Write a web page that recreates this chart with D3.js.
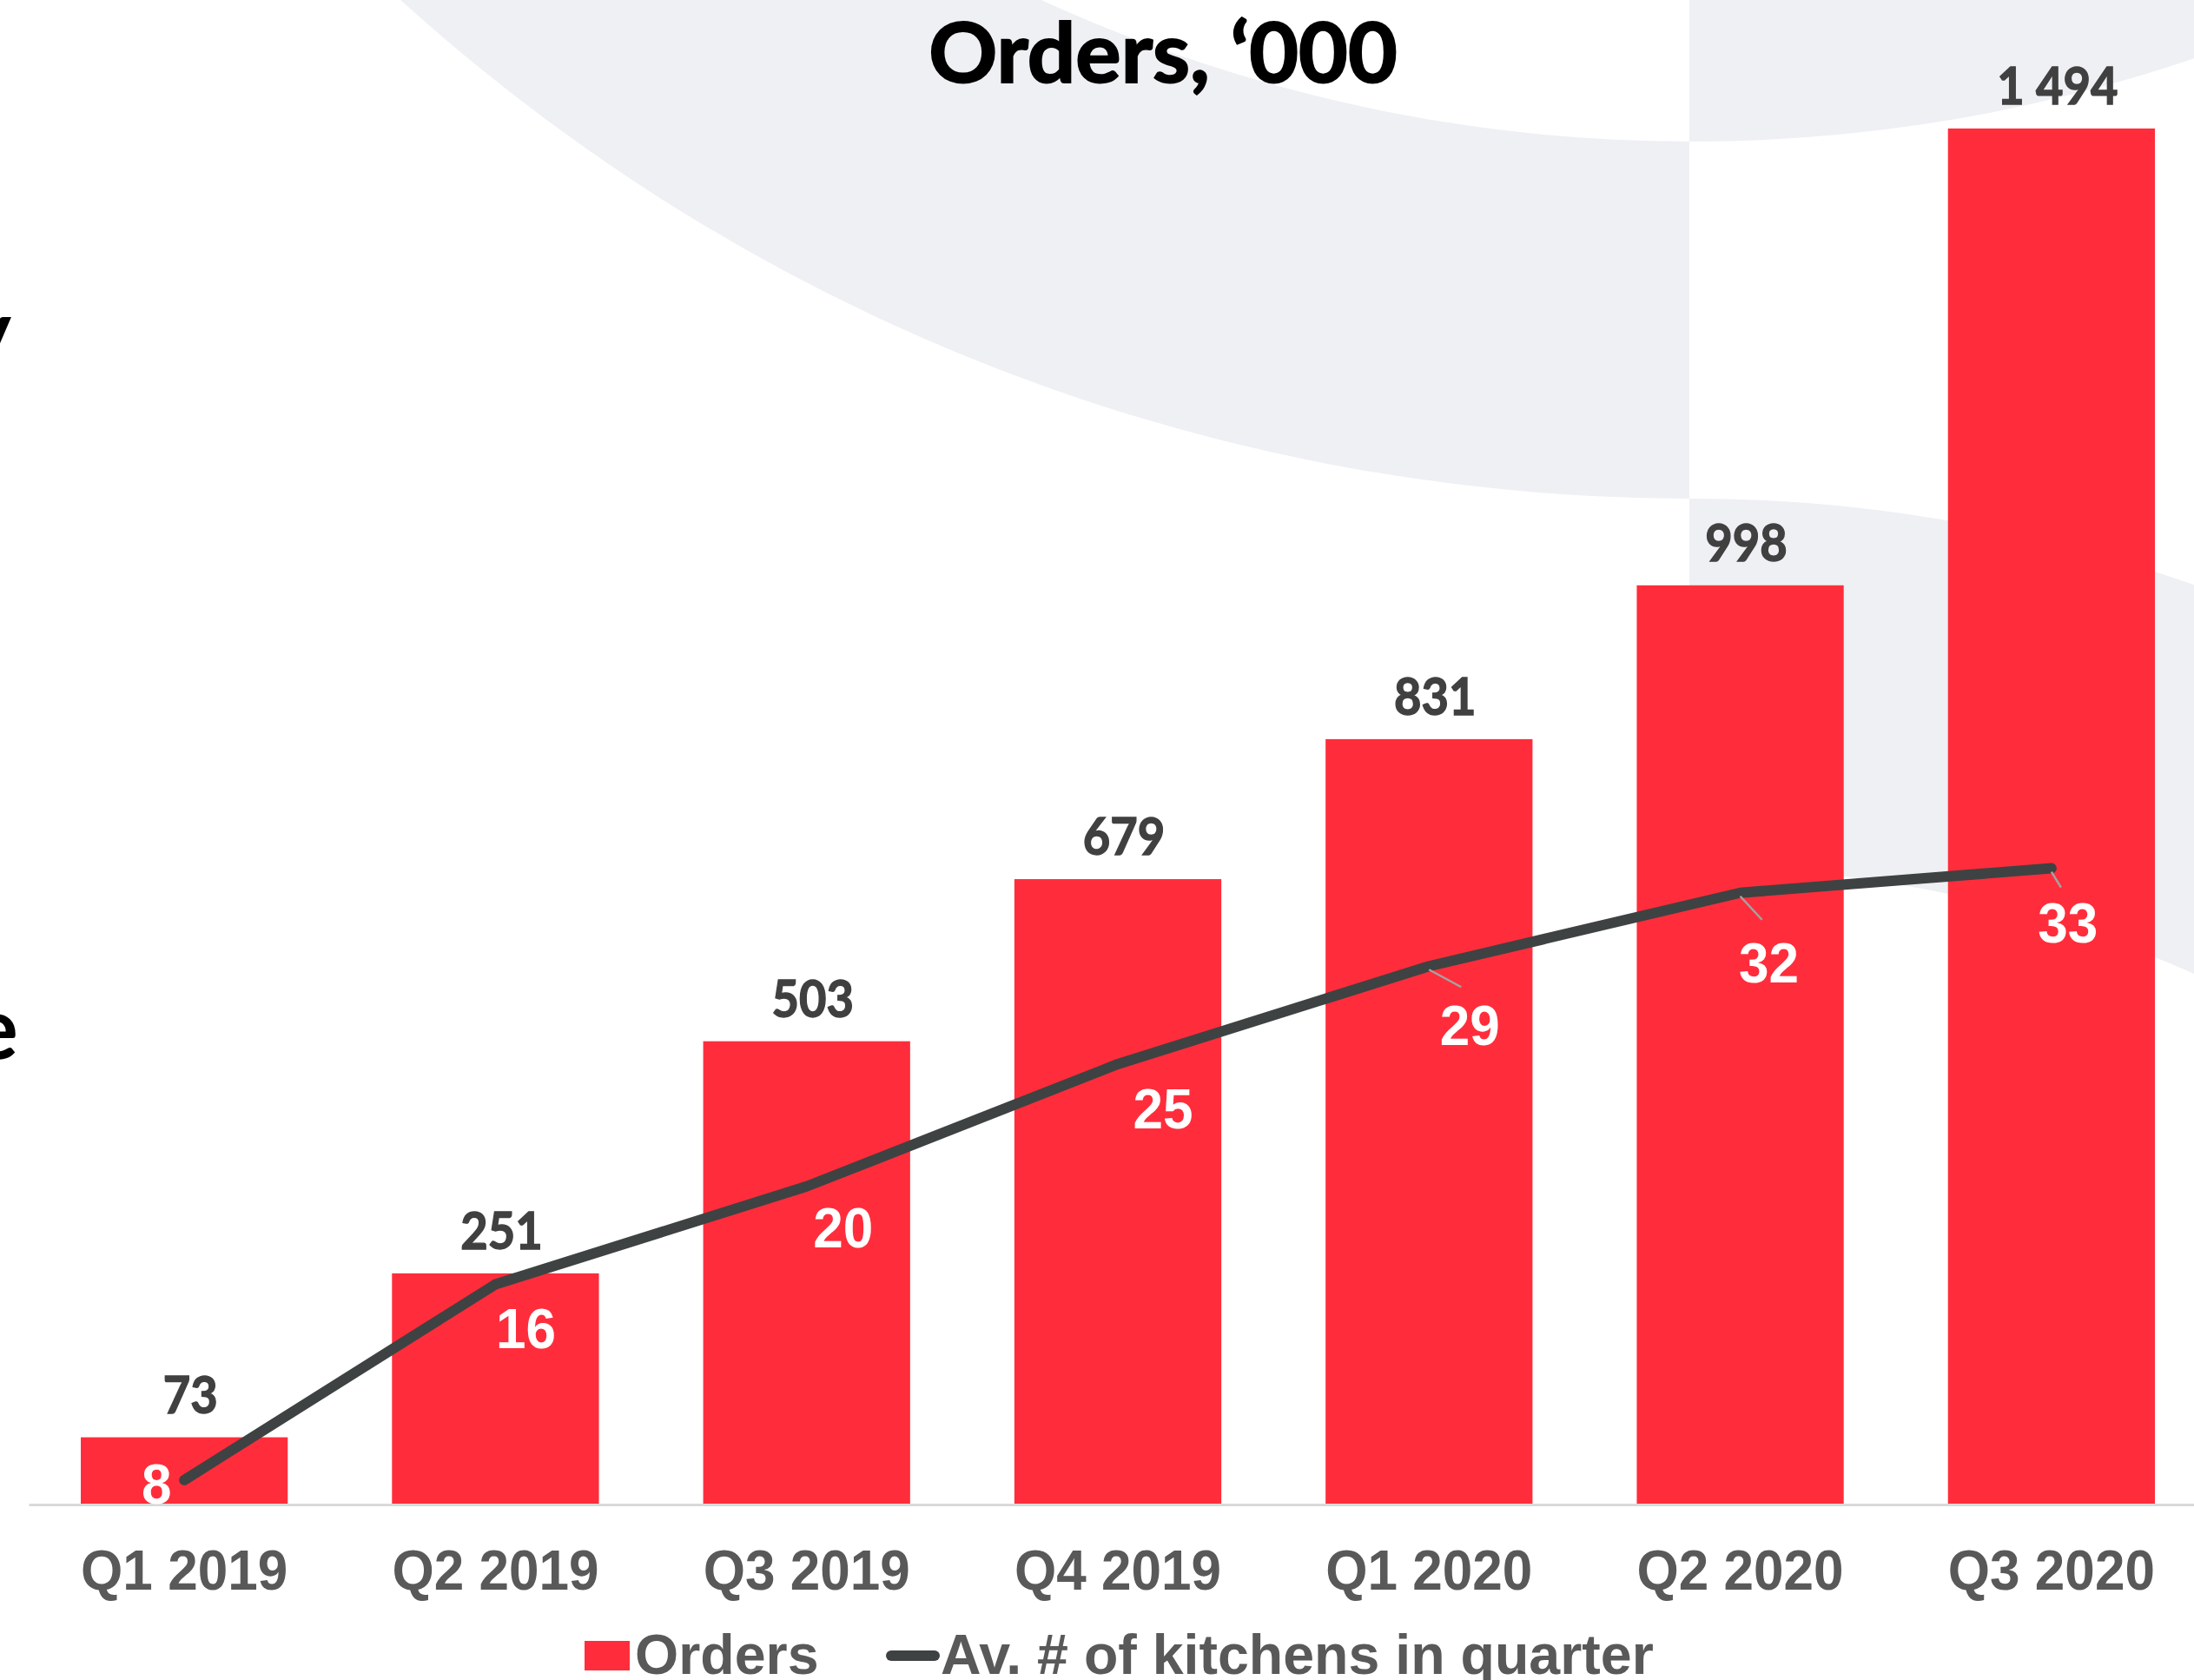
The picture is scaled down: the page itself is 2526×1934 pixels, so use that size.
<!DOCTYPE html>
<html>
<head>
<meta charset="utf-8">
<script src="https://cdn.jsdelivr.net/npm/d3@7"></script>
<style>
  html, body { margin: 0; padding: 0; background: #ffffff; overflow: hidden; }
  svg { display: block; }
</style>
</head>
<body>
<script>
// ---- data -------------------------------------------------------------
const quarters = ["Q1 2019", "Q2 2019", "Q3 2019", "Q4 2019", "Q1 2020", "Q2 2020", "Q3 2020"];
const orders   = [73, 251, 503, 679, 831, 998, 1494];   // orders, thousands
const kitchens = [8, 16, 20, 25, 29, 32, 33];           // average kitchens in quarter

const legendLabels = ["Orders", "Av. # of kitchens in quarter"];
const titleText = "Orders, \u2018000";

// manual placement of the kitchen value labels (relative to each line vertex)
const kitchenLabelNudge = [[-32, 4], [35, 50], [42, 47], [52, 51], [47, 67], [33, 80], [19, 62]];
// leader lines for the labels that sit away from their vertex
const kitchenLeaderEnd  = [null, null, null, null, [37, 24], [25, 31], [11, 22]];

// ---- layout -------------------------------------------------------------
const W = 2526, H = 1934;
const baseY = 1732;

const C = {
  bar: "#ff2d3b",
  line: "#3f4242",
  barLabel: "#404040",
  axisText: "#595959",
  axisLine: "#d9d9d9",
  leader: "#a3a3a3",
  backdrop: "#eff0f4"
};

const svg = d3.select("body").append("svg")
  .attr("width", W).attr("height", H)
  .attr("viewBox", `0 0 ${W} ${H}`);

// ---- decorative backdrop: offset concentric rings --------------------------
const splitX = 1945;
const defs = svg.append("defs");
defs.append("clipPath").attr("id", "clipLeft")
  .append("rect").attr("x", 0).attr("y", 0).attr("width", splitX).attr("height", H);
defs.append("clipPath").attr("id", "clipRight")
  .append("rect").attr("x", splitX).attr("y", 0).attr("width", W - splitX).attr("height", H);

function circlePath(cx, cy, r) {
  return `M${cx - r},${cy}a${r},${r} 0 1,0 ${2 * r},0a${r},${r} 0 1,0 ${-2 * r},0Z`;
}

const ringCx = 1947, ringCy = -1636;
const back = svg.append("g").attr("class", "backdrop");
// left half: grey ring between two concentric circles
back.append("path")
  .attr("clip-path", "url(#clipLeft)")
  .attr("fill", C.backdrop).attr("fill-rule", "evenodd")
  .attr("d", circlePath(ringCx, ringCy, 2210) + circlePath(ringCx, ringCy, 1799));
// right half: grey disc on top, then a grey band curving downwards
back.append("path")
  .attr("clip-path", "url(#clipRight)")
  .attr("fill", C.backdrop)
  .attr("d", circlePath(ringCx, ringCy, 1799));
back.append("path")
  .attr("clip-path", "url(#clipRight)")
  .attr("fill", C.backdrop).attr("fill-rule", "evenodd")
  .attr("d", circlePath(ringCx, 574 + 1739, 1739) + circlePath(ringCx, 998 + 1423, 1423));

// clipped headings of the neighbouring text block
const side = svg.append("g")
  .attr("font-family", "Lato, 'Open Sans', sans-serif")
  .attr("font-weight", 700).attr("font-size", 100).attr("fill", "#000");
side.append("text").attr("x", 13).attr("y", 416).attr("text-anchor", "end").text("y");
side.append("text").attr("x", 21).attr("y", 1219).attr("text-anchor", "end").text("e");

// ---- scales ---------------------------------------------------------------
const x = d3.scaleBand()
  .domain(quarters)
  .range([33, 2541])
  .paddingInner(0.335)
  .paddingOuter(0.1675);

const y = d3.scaleLinear()
  .domain([0, 1600])
  .range([baseY, baseY - 1600 * 1.0603]);

const y2 = d3.scaleLinear()
  .domain([7, 35])
  .range([baseY, baseY - 28 * 28.17]);

const cx = q => x(q) + x.bandwidth() / 2;

// ---- title ----------------------------------------------------------------
svg.append("g")
  .attr("transform", "translate(1339,95) scale(1.02,1)")
  .append("text")
  .attr("text-anchor", "middle")
  .attr("font-family", "Lato, sans-serif")
  .attr("font-weight", 700)
  .attr("font-size", 96)
  .attr("fill", "#000")
  .attr("stroke", "#000")
  .attr("stroke-width", 2)
  .text(titleText);

// ---- bars -----------------------------------------------------------------
const rows = quarters.map((q, i) => ({ q, orders: orders[i], kitchens: kitchens[i], i }));

svg.append("g").attr("class", "bars")
  .selectAll("rect").data(rows).join("rect")
  .attr("x", d => x(d.q))
  .attr("y", d => y(d.orders))
  .attr("width", x.bandwidth())
  .attr("height", d => baseY - y(d.orders))
  .attr("fill", C.bar);

// ---- category axis ---------------------------------------------------------
const axis = svg.append("g")
  .attr("transform", `translate(0,${baseY})`)
  .call(d3.axisBottom(x).tickSize(0).tickSizeOuter(0).tickPadding(52));
axis.select(".domain").attr("stroke", C.axisLine).attr("stroke-width", 3);
axis.selectAll(".tick text")
  .attr("font-family", "'Liberation Sans', Arial, sans-serif")
  .attr("font-weight", 700)
  .attr("font-size", 65)
  .attr("fill", C.axisText)
  .attr("transform", "scale(0.955,1)");

// ---- bar value labels -------------------------------------------------------
const fmt = d3.formatLocale({ decimal: ".", thousands: " ", grouping: [3], currency: ["", ""] }).format(",");

svg.append("g").attr("class", "bar-labels")
  .selectAll("g").data(rows).join("g")
  .attr("transform", d => `translate(${cx(d.q) + 7},${y(d.orders) - 28}) scale(0.92,1)`)
  .append("text")
  .attr("text-anchor", "middle")
  .attr("font-family", "Lato, sans-serif")
  .attr("font-weight", 700)
  .attr("font-size", 59)
  .attr("fill", C.barLabel)
  .attr("stroke", C.barLabel)
  .attr("stroke-width", 1.4)
  .text(d => fmt(d.orders));

// ---- kitchens line ----------------------------------------------------------
const line = d3.line().x(d => cx(d.q)).y(d => y2(d.kitchens));
svg.append("path")
  .datum(rows)
  .attr("d", line)
  .attr("fill", "none")
  .attr("stroke", C.line)
  .attr("stroke-width", 12)
  .attr("stroke-linecap", "round")
  .attr("stroke-linejoin", "round");

// leader lines
svg.append("g").attr("class", "leaders")
  .selectAll("line").data(rows.filter(d => kitchenLeaderEnd[d.i])).join("line")
  .attr("x1", d => cx(d.q))
  .attr("y1", d => y2(d.kitchens) + 4)
  .attr("x2", d => cx(d.q) + kitchenLeaderEnd[d.i][0])
  .attr("y2", d => y2(d.kitchens) + kitchenLeaderEnd[d.i][1])
  .attr("stroke", C.leader)
  .attr("stroke-width", 2.5);

// kitchen value labels
const kSize = 65;
svg.append("g").attr("class", "kitchen-labels")
  .selectAll("g").data(rows).join("g")
  .attr("transform", d => `translate(${cx(d.q) + kitchenLabelNudge[d.i][0]},${y2(d.kitchens) + kitchenLabelNudge[d.i][1] + kSize * 0.358}) scale(0.955,1)`)
  .append("text")
  .attr("text-anchor", "middle")
  .attr("font-family", "'Liberation Sans', Arial, sans-serif")
  .attr("font-weight", 700)
  .attr("font-size", kSize)
  .attr("fill", "#ffffff")
  .text(d => d.kitchens);

// ---- legend -----------------------------------------------------------------
const legend = svg.append("g").attr("class", "legend")
  .attr("font-family", "'Liberation Sans', Arial, sans-serif")
  .attr("font-weight", 700)
  .attr("font-size", 64.5)
  .attr("fill", C.axisText);

legend.append("rect")
  .attr("x", 673).attr("y", 1889).attr("width", 52).attr("height", 34)
  .attr("fill", C.bar);
legend.append("text").attr("x", 731).attr("y", 1927).text(legendLabels[0]);

legend.append("line")
  .attr("x1", 1026).attr("x2", 1076).attr("y1", 1906).attr("y2", 1906)
  .attr("stroke", C.line).attr("stroke-width", 12).attr("stroke-linecap", "round");
legend.append("text").attr("x", 1083).attr("y", 1927).text(legendLabels[1]);
</script>
</body>
</html>
